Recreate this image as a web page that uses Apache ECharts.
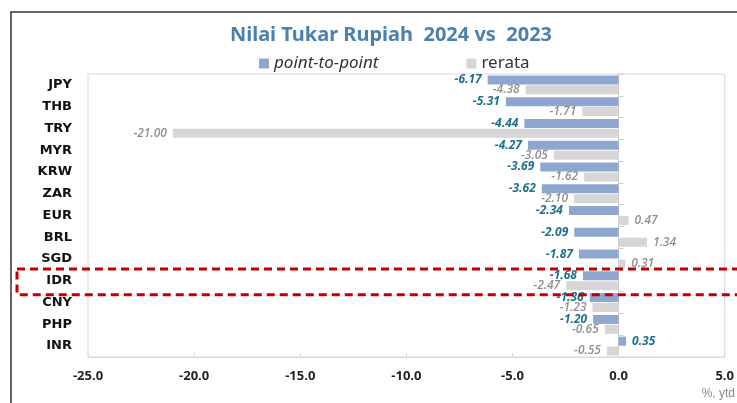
<!DOCTYPE html>
<html>
<head>
<meta charset="utf-8">
<script src="https://cdn.jsdelivr.net/npm/echarts@6/dist/echarts.min.js"></script>
<style>
  html, body { margin: 0; padding: 0; background: #fff; }
  #chart { width: 737px; height: 403px; }
</style>
</head>
<body>
<div id="chart"></div>
<script>
// data
const currencies = ["JPY", "THB", "TRY", "MYR", "KRW", "ZAR", "EUR", "BRL", "SGD", "IDR", "CNY", "PHP", "INR"];
const pointToPoint = [-6.17, -5.31, -4.44, -4.27, -3.69, -3.62, -2.34, -2.09, -1.87, -1.68, -1.36, -1.20, 0.35];
const rerata = [-4.38, -1.71, -21.00, -3.05, -1.62, -2.10, 0.47, 1.34, 0.31, -2.47, -1.23, -0.65, -0.55];
const xTicks = { min: -25, max: 5, step: 5 };
const highlight = "IDR";

const chartDom = document.getElementById("chart");
const myChart = echarts.init(chartDom);

// label goes on the far end of the bar, whichever side it is
function withLabels(values) {
  return values.map(v => ({
    value: v,
    label: { position: v < 0 ? "left" : "right" },
  }));
}

const option = {
  animation: false,
  textStyle: { fontFamily: "Open Sans" },
  title: {
    text: "Nilai Tukar Rupiah  2024 vs  2023",
    left: 386,
    textAlign: "center",
    top: 20,
    textStyle: {
      color: "#4A80AE",
      fontSize: 20,
      fontWeight: "bold",
      fontFamily: "Noto Sans",
    },
  },
  legend: {
    top: 50,
    left: 254,
    itemWidth: 10,
    itemHeight: 10,
    itemGap: 88,
    icon: "rect",
    textStyle: { fontSize: 17, color: "#333", fontFamily: "Noto Sans" },
    data: [
      { name: "point-to-point", textStyle: { fontStyle: "italic" } },
      { name: "rerata" },
    ],
  },
  grid: {
    left: 88,
    right: 7,
    top: 74,
    bottom: 46,
    show: true,
    borderColor: "#d9d9d9",
    borderWidth: 1,
  },
  xAxis: {
    type: "value",
    min: xTicks.min,
    max: xTicks.max,
    interval: xTicks.step,
    splitLine: { show: false },
    axisLine: { show: true, onZero: false, lineStyle: { color: "#d9d9d9" } },
    axisTick: { show: true, inside: true, length: 4, lineStyle: { color: "#d9d9d9" } },
    axisLabel: {
      margin: 13,
      fontSize: 13,
      fontWeight: "bold",
      color: "#222",
      formatter: v => v.toFixed(1),
    },
  },
  yAxis: [
    {
      type: "category",
      data: currencies,
      inverse: true,
      position: "left",
      axisLine: { show: false, onZero: false },
      axisTick: { show: false },
      axisLabel: { margin: 16, fontSize: 13, fontWeight: "bold", color: "#111", fontFamily: "DejaVu Sans" },
    },
    {
      // axis line at zero with ticks between rows
      type: "category",
      data: currencies,
      inverse: true,
      position: "right",
      axisLine: { show: true, onZero: true, onZeroAxisIndex: 0, lineStyle: { color: "#cfcfcf" } },
      axisTick: { show: true, inside: false, length: 5, lineStyle: { color: "#cfcfcf" } },
      axisLabel: { show: false },
    },
  ],
  series: [
    {
      name: "point-to-point",
      type: "bar",
      yAxisIndex: 0,
      data: withLabels(pointToPoint),
      barWidth: 9,
      barGap: "10%",
      itemStyle: { color: "#8EA6D0" },
      label: {
        show: true,
        distance: 6,
        fontSize: 12,
        fontStyle: "italic",
        fontWeight: "bold",
        color: "#1F6F8B",
        formatter: p => p.value.toFixed(2),
      },
    },
    {
      name: "rerata",
      type: "bar",
      yAxisIndex: 0,
      data: withLabels(rerata),
      barWidth: 9,
      itemStyle: { color: "#D6D6D6" },
      label: {
        show: true,
        distance: 6,
        fontSize: 12,
        fontStyle: "italic",
        fontWeight: 600,
        color: "#8F8F8F",
        formatter: p => p.value.toFixed(2),
      },
    },
  ],
};

option && myChart.setOption(option);

// frame, highlight box and unit note
const rowY = myChart.convertToPixel({ yAxisIndex: 0 }, highlight);
const bandH = (403 - 74 - 46) / currencies.length;
myChart.setOption({
  graphic: [
    {
      type: "rect",
      shape: { x: 11, y: 12, width: 760, height: 420 },
      style: { fill: null, stroke: "#333", lineWidth: 1.5 },
      silent: true,
    },
    {
      type: "rect",
      shape: { x: 17, y: rowY - bandH / 2 - 1, width: 740, height: bandH + 4 },
      style: { fill: null, stroke: "#C00000", lineWidth: 3, lineDash: [8, 5] },
      silent: true,
      z: 100,
    },
    {
      type: "text",
      right: 2,
      top: 388,
      style: { text: "%, ytd", fontSize: 12, fill: "#888", font: "12px Open Sans" },
    },
  ],
});

window.addEventListener("resize", () => {
  myChart.resize();
});
</script>
</body>
</html>
